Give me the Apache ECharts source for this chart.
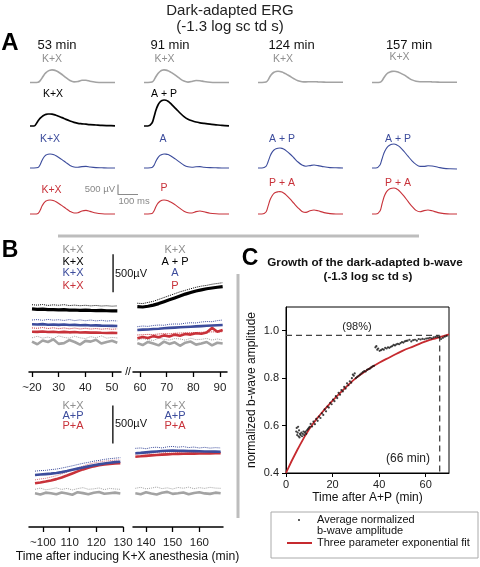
<!DOCTYPE html>
<html><head><meta charset="utf-8">
<script src="https://cdn.jsdelivr.net/npm/echarts@6/dist/echarts.min.js"></script>
<style>html,body{margin:0;padding:0;background:#fff}#c{width:480px;height:567px}</style>
</head><body><div id="c"></div><script>
// ---------------- Panel A data (ERG waveforms, µV vs ms) ----------------
const ERG_T = [0,20,40,50,60,70,80,90,100,110,120,130,140,160,180,200,220,240,260,280,300,330,360,390,425];
const ergGray53  = [0,0,10,80,220,380,490,570,610,630,620,590,540,400,240,100,30,50,110,110,60,15,0,0,0];
const ergGray91  = [0,0,20,120,300,450,550,610,630,620,590,540,480,340,190,70,20,50,100,90,50,10,0,0,0];
const ergGray124 = [0,0,20,120,300,430,510,550,560,550,520,480,430,310,190,90,40,30,40,40,30,20,10,10,10];
const ergGray157 = [0,0,10,90,250,390,480,530,555,560,550,520,480,380,250,130,60,40,40,40,30,20,10,10,10];
const ergBlack53 = [0,0,250,380,470,540,580,600,600,590,570,540,500,420,330,250,180,130,110,90,70,50,30,20,10];
const ergBlack91 = [0,0,150,450,800,1050,1200,1280,1300,1290,1240,1160,1060,860,650,470,340,260,200,160,130,90,60,30,10];
const ergBlue53  = [0,0,20,150,380,550,650,690,700,690,660,610,550,420,270,130,50,40,70,80,50,20,10,0,0];
const ergBlue91  = [0,0,20,130,350,520,630,680,700,695,670,620,560,430,280,140,60,40,60,70,40,20,10,0,0];
const ergBlue124 = [0,0,80,300,580,780,900,960,990,1000,980,940,870,700,500,300,150,90,120,150,120,60,20,10,0];
const ergBlue157 = [0,0,150,450,750,950,1080,1150,1190,1200,1180,1120,1040,830,590,360,180,80,80,110,100,40,-20,-40,-50];
const ergRed53   = [0,0,30,170,400,560,650,690,700,690,660,610,550,420,270,130,50,60,150,180,130,50,10,0,0];
const ergRed91   = [0,0,20,150,370,540,640,690,700,690,660,610,560,430,280,140,60,50,120,150,110,40,10,0,0];
const ergRed124  = [0,0,100,380,700,900,1030,1090,1110,1120,1100,1040,960,760,530,310,130,80,160,200,160,70,20,0,0];
const ergRed157  = [0,0,150,500,850,1070,1190,1260,1290,1300,1280,1210,1120,890,630,380,180,110,170,200,160,70,20,0,0];
const ergColumnTitles = ['53 min','91 min','124 min','157 min'];
const ergLabels = [['K+X','K+X','K+X','K+X'],['K+X','A + P',null,null],['K+X','A','A + P','A + P'],['K+X','P','P + A','P + A']];
const scaleA_uV = 500, scaleA_ms = 100;

// ---------------- Panel B data (b-wave amplitude µV vs time, min) ----------------
const bT1 = [20,22,24,26,28,30,32,34,36,38,40,42,44,46,48,50,52];
const bT2 = [59,61,63,65,67,69,71,73,75,77,79,81,83,85,87,89,91];
const bT3 = [97,99,101,103,105,107,109,111,113,115,117,119,121,123,125,127,129];
const bT4 = [136,138,140,142,144,146,148,150,152,154,156,158,160,162,164,166,168];
// top-left
const b1Black  = [830,825,828,820,822,818,820,815,816,812,814,810,808,810,806,804,803];
const b1BlackD = [885,880,888,876,884,878,886,874,880,872,878,870,876,868,872,866,870];
const b1Blue   = [628,625,630,622,626,620,624,618,620,615,618,612,614,610,608,607,605];
const b1BlueD  = [684,690,680,692,682,688,678,690,676,686,674,684,672,680,670,676,671];
const b1Red    = [530,528,532,526,530,524,528,522,526,520,522,518,520,516,514,515,513];
const b1RedD   = [580,575,585,572,582,570,580,568,578,566,575,565,572,563,570,562,568];
const b1Gray   = [400,365,415,395,430,370,380,420,395,360,410,400,425,375,395,410,385];
const b1GrayD  = [450,470,445,460,440,475,455,445,470,450,440,465,450,475,445,455,448];
// top-right
const b2Black  = [860,855,865,880,900,925,950,975,1000,1025,1045,1065,1080,1095,1105,1115,1123];
const b2BlackD = [905,900,915,930,955,980,1005,1030,1055,1075,1095,1115,1130,1140,1155,1165,1175];
const b2Blue   = [553,558,560,566,570,575,580,584,588,592,596,600,604,608,612,616,619];
const b2BlueD  = [596,605,600,612,618,615,628,632,630,642,648,645,658,664,662,676,684];
const b2Red    = [443,460,448,472,456,482,466,492,478,500,492,510,504,520,580,530,553];
const b2RedD   = [487,490,495,492,500,505,502,510,512,515,518,520,522,525,528,528,530];
const b2Gray   = [380,355,395,375,350,400,370,390,345,385,400,360,375,395,350,385,375];
const b2GrayD  = [420,440,425,415,445,430,420,440,435,418,445,425,430,442,420,435,421];
// bottom-left
const b3Blue   = [684,690,696,702,710,722,736,752,768,784,798,812,824,836,846,854,859];
const b3BlueD  = [735,742,745,755,762,775,790,805,822,838,850,866,876,890,898,906,912];
const b3Red    = [575,585,598,612,630,652,678,705,732,758,780,798,812,822,830,835,838];
const b3RedD   = [620,632,640,658,675,698,722,750,778,802,826,842,856,866,874,880,884];
const b3Gray   = [443,428,452,445,432,455,440,425,458,446,432,450,460,438,445,452,440];
const b3GrayD  = [496,512,490,500,515,494,508,488,505,518,496,502,514,492,508,500,496];
// bottom-right
const b4Blue   = [970,975,982,988,994,1000,1004,1006,1004,1002,1000,998,996,994,993,992,991];
const b4BlueD  = [1035,1040,1030,1045,1050,1040,1055,1060,1050,1058,1045,1052,1040,1048,1038,1044,1040];
const b4Red    = [925,930,936,942,948,952,956,960,962,964,965,966,967,968,969,970,970];
const b4RedD   = [960,968,962,975,980,972,985,990,982,992,988,985,990,986,992,985,987];
const b4Gray   = [443,432,456,440,428,450,462,436,445,455,430,448,458,442,436,452,443];
const b4GrayD  = [509,522,502,512,526,505,515,500,520,510,524,504,518,508,522,512,509];
const bTicks1 = [20,30,40,50], bTicks2 = [60,70,80,90], bTicks3 = [100,110,120,130], bTicks4 = [140,150,160];
const bLegendTL = ['K+X','K+X','K+X','K+X'], bLegendTR = ['K+X','A + P','A','P'];
const bLegendBL = ['K+X','A+P','P+A'], bLegendBR = ['K+X','A+P','P+A'];
const scaleB_uV = 500;

// ---------------- Panel C data ----------------
const cDotT = [4.4,4.6,4.8,5.0,5.2,5.4,5.6,5.8,6.0,6.3,6.6,6.9,7.2,7.5,7.8,8.1,8.4,8.7,9.0,9.4,9.8,10.2,
  10.6,11.2,11.8,12.4,13.0,13.6,14.2,14.8,15.4,16.0,16.6,17.2,17.8,18.4,19.0,19.6,20.2,20.8,21.4,22.0,22.6,23.2,23.8,24.4,25.0,25.6,26.2,26.8,27.4,28.0,
  28.3,28.7,29.1,29.5,30.0,30.6,31.2,31.8,32.4,33.0,33.6,34.2,34.8,35.4,36.0,36.6,37.2,37.8,
  38.4,38.8,39.2,39.6,40.2,40.8,41.4,42.0,42.6,43.2,43.8,44.4,45.0,45.6,46.2,46.8,47.4,48.0,48.6,49.2,49.8,50.4,51.0,51.6,
  52.2,53,53.8,54.6,55.4,56.2,57,57.8,58.6,59.4,60.2,61,61.8,62.6,63.4,64.2,65,65.8,66.6,67.4,68.2,69];
const cDotV = [0.575,0.59,0.56,0.57,0.595,0.555,0.58,0.55,0.565,0.56,0.57,0.555,0.565,0.575,0.56,0.57,0.575,0.565,0.58,0.585,0.59,0.595,
  0.607,0.596,0.617,0.606,0.628,0.62,0.638,0.632,0.652,0.645,0.668,0.66,0.68,0.676,0.696,0.69,0.71,0.703,0.724,0.716,0.738,0.73,0.75,0.744,0.763,0.756,0.778,0.77,0.787,0.781,
  0.80,0.815,0.81,0.82,0.80,0.805,0.81,0.815,0.82,0.825,0.83,0.828,0.835,0.838,0.84,0.845,0.85,0.852,
  0.93,0.935,0.92,0.925,0.915,0.918,0.922,0.92,0.928,0.925,0.93,0.928,0.932,0.935,0.94,0.938,0.942,0.945,0.943,0.948,0.952,0.95,0.955,0.957,
  0.958,0.962,0.955,0.96,0.962,0.958,0.965,0.963,0.966,0.964,0.967,0.968,0.97,0.968,0.972,0.974,0.975,0.972,0.965,0.97,0.975,0.978];
const cFitT = [0,5,10,15,20,25,30,35,40,45,50,55,60,65,70];
const cFitV = [0.40,0.50,0.585,0.65,0.705,0.755,0.80,0.835,0.865,0.89,0.915,0.935,0.955,0.97,0.985];
const cLevel = 0.98, cTime = 66;
const cXTicks = [0,20,40,60], cYTicks = [0.4,0.6,0.8,1.0];

// ---------------- build ----------------
const FONT = "'Liberation Sans', Arial, Helvetica, sans-serif";
const C = {gray:'#a3a3a3', grayTxt:'#8f8f8f', black:'#000', blue:'#3c4c9c', red:'#c8323a', redD:'#d9707a'};
const grids=[], xAxes=[], yAxes=[], series=[], graphics=[];
function addGrid(g,x,y){grids.push(g);const i=grids.length-1;x.gridIndex=i;y.gridIndex=i;xAxes.push(x);yAxes.push(y);return i;}
function zip(a,b){return a.map((v,i)=>[v,b[i]]);}
function txt(s,x,y,o){o=o||{};graphics.push({type:'text',x:x,y:y,silent:true,z:50,style:{text:s,fill:o.color||'#222',fontSize:o.size||11,fontWeight:o.weight||'normal',fontFamily:FONT,align:o.align||'center',verticalAlign:'middle'}});}

// Panel A
const aCols=[30,144,258,372], aBase=[82.5,126,168,214];
const aColors=[C.gray,C.black,C.blue,C.red], aWidths=[1.6,1.7,1.1,1.1];
const ergRows=[[ergGray53,ergGray91,ergGray124,ergGray157],[ergBlack53,ergBlack91,null,null],
  [ergBlue53,ergBlue91,ergBlue124,ergBlue157],[ergRed53,ergRed91,ergRed124,ergRed157]];
ergRows.forEach((row,r)=>row.forEach((arr,c)=>{
  if(!arr) return;
  const gi=addGrid({left:aCols[c],top:aBase[r]-30,width:85,height:36},
    {type:'value',min:0,max:425,show:false},{type:'value',min:-300,max:1500,show:false});
  series.push({type:'line',xAxisIndex:gi,yAxisIndex:gi,data:zip(ERG_T,arr),showSymbol:false,smooth:0.3,
    lineStyle:{color:aColors[r],width:aWidths[r]},silent:true});
}));
// scale bar for A (same µV/ms scale as the traces: 0.2 px/ms, 0.02 px/µV)
const gsb=addGrid({left:118,top:184.5,width:scaleA_ms*0.2,height:scaleA_uV*0.02},
  {type:'value',min:0,max:scaleA_ms,show:false},{type:'value',min:0,max:scaleA_uV,show:false});
series.push({type:'line',xAxisIndex:gsb,yAxisIndex:gsb,clip:false,showSymbol:false,silent:true,
  data:[[0,scaleA_uV],[0,0],[scaleA_ms,0]],lineStyle:{color:'#8a8a8a',width:1.2}});

// Panel B
const bPanels=[
 {left:29,width:92,top:250.4,xMin:18.875,xMax:53.375,ticks:bTicks1,T:bT1,tilde:20,
  lines:[[b1GrayD,C.gray,1],[b1Gray,C.gray,0],[b1RedD,C.red,1],[b1Red,C.red,0],[b1BlueD,C.blue,1],[b1Blue,C.blue,0],[b1BlackD,C.black,1],[b1Black,C.black,0]]},
 {left:133,width:94,top:250.4,xMin:57.375,xMax:92.625,ticks:bTicks2,T:bT2,
  lines:[[b2GrayD,C.gray,1],[b2Gray,C.gray,0],[b2RedD,C.red,1],[b2Red,C.red,0],[b2BlueD,C.blue,1],[b2Blue,C.blue,0],[b2BlackD,C.black,1],[b2Black,C.black,0]]},
 {left:29,width:94,top:405.4,xMin:94.75,xMax:130,ticks:bTicks3,T:bT3,tilde:100,
  lines:[[b3GrayD,C.gray,1],[b3Gray,C.gray,0],[b3RedD,C.redD,1],[b3Red,C.red,0],[b3BlueD,C.blue,1],[b3Blue,C.blue,0]]},
 {left:133,width:90,top:405.4,xMin:135.125,xMax:168.875,ticks:bTicks4,T:bT4,
  lines:[[b4GrayD,C.gray,1],[b4Gray,C.gray,0],[b4RedD,C.redD,1],[b4Red,C.red,0],[b4BlueD,C.blue,1],[b4Blue,C.blue,0]]}
];
const bGridIdx=[];
bPanels.forEach(p=>{
  const gi=addGrid({left:p.left,top:p.top,width:p.width,height:121.6},
   {type:'value',min:p.xMin,max:p.xMax,splitLine:{show:false},
    axisLine:{show:true,lineStyle:{color:'#000',width:1.5}},
    axisTick:{show:true,customValues:p.ticks,length:5,lineStyle:{color:'#000',width:1.3}},
    axisLabel:{customValues:p.ticks,margin:10,fontSize:11.5,color:'#222',fontFamily:FONT,
      formatter:(v)=>(v===p.tilde?'~':'')+v}},
   {type:'value',min:0,max:1600,show:false});
  bGridIdx.push(gi);
  p.lines.forEach(l=>{
    series.push({type:'line',xAxisIndex:gi,yAxisIndex:gi,data:zip(p.T,l[0]),showSymbol:false,silent:true,
      lineStyle:{color:l[1],width:l[2]?1:(l[1]===C.black?3.2:2.6),type:l[2]?'dotted':'solid'}});
  });
});
// B scale bars
series.push({type:'line',xAxisIndex:bGridIdx[0],yAxisIndex:bGridIdx[0],clip:false,showSymbol:false,silent:true,
  data:[[50.4,1050],[50.4,1050+scaleB_uV]],lineStyle:{color:'#000',width:1.3}});
series.push({type:'line',xAxisIndex:bGridIdx[2],yAxisIndex:bGridIdx[2],clip:false,showSymbol:false,silent:true,
  data:[[126.2,1100],[126.2,1100+scaleB_uV]],lineStyle:{color:'#000',width:1.3}});

// Panel C
const gc=addGrid({left:286,top:307,width:163,height:166,show:true,borderColor:'#000',borderWidth:1},
 {type:'value',min:0,max:70,splitLine:{show:false},name:'Time after A+P (min)',nameLocation:'middle',nameGap:19,
  nameTextStyle:{fontSize:12,color:'#111',fontFamily:FONT},
  axisLine:{lineStyle:{color:'#000',width:1}},axisTick:{customValues:cXTicks,length:4,lineStyle:{color:'#000'}},
  axisLabel:{customValues:cXTicks,fontSize:11,color:'#222',margin:6,fontFamily:FONT}},
 {type:'value',min:0.4,max:1.1,splitLine:{show:false},name:'normalized b-wave amplitude',nameLocation:'middle',nameGap:28,
  nameTextStyle:{fontSize:12,color:'#111',fontFamily:FONT},
  axisLine:{show:true,lineStyle:{color:'#000',width:1}},axisTick:{show:true,customValues:cYTicks,length:4,lineStyle:{color:'#000'}},
  axisLabel:{customValues:cYTicks,fontSize:11,color:'#222',margin:7,fontFamily:FONT,formatter:v=>v.toFixed(1)}});
series.push({type:'line',xAxisIndex:gc,yAxisIndex:gc,data:[[0,cLevel],[cTime,cLevel]],showSymbol:false,silent:true,
  lineStyle:{color:'#444',width:1.3,type:[6,4]}});
series.push({type:'line',xAxisIndex:gc,yAxisIndex:gc,data:[[cTime,cLevel],[cTime,0.4]],showSymbol:false,silent:true,
  lineStyle:{color:'#444',width:1.3,type:[6,4]}});
series.push({type:'line',xAxisIndex:gc,yAxisIndex:gc,data:zip(cFitT,cFitV),showSymbol:false,smooth:true,silent:true,z:2,
  lineStyle:{color:'#c62a2f',width:1.8}});
series.push({type:'scatter',xAxisIndex:gc,yAxisIndex:gc,data:zip(cDotT,cDotV),symbolSize:2.2,z:3,itemStyle:{color:'#111'},silent:true});

// ---------------- texts / annotations ----------------
txt('Dark-adapted ERG',230,11,{size:15});
txt('(-1.3 log sc td s)',230,27,{size:15});
txt('A',10,43,{size:24,weight:'bold',color:'#000'});
const aTitleX=[57,170,291.5,409];
ergColumnTitles.forEach((s,i)=>txt(s,aTitleX[i],45,{size:13,color:'#111'}));
const aLabelX=[[52,164.5,283,399.5],[53,164,0,0],[50,163,282,398],[51.5,164,282,398]];
const aLabelY=[[59,59,59,57.5],[94,94,94,94],[139,139,139,139],[190,188,183,183]];
const aLabelC=[C.grayTxt,C.black,C.blue,C.red];
ergLabels.forEach((row,r)=>row.forEach((s,c)=>{ if(s) txt(s,aLabelX[r][c],aLabelY[r][c],{size:10.5,color:aLabelC[r]}); }));
txt(scaleA_uV+' µV',115,189,{size:9.5,color:'#888',align:'right'});
txt(scaleA_ms+' ms',118.5,201,{size:9.5,color:'#888',align:'left'});
graphics.push({type:'rect',shape:{x:58,y:234.5,width:361,height:3},style:{fill:'#bdbdbd'},silent:true});
graphics.push({type:'rect',shape:{x:236.5,y:274,width:3,height:244},style:{fill:'#bdbdbd'},silent:true});
txt('B',10,251,{size:23,weight:'bold',color:'#000'});
txt('C',250,259,{size:23,weight:'bold',color:'#000'});
const bColTL=[C.grayTxt,C.black,C.blue,C.red], bYTop=[249.5,261.7,273.3,285.7];
bLegendTL.forEach((s,i)=>txt(s,73,bYTop[i],{size:11,color:bColTL[i]}));
bLegendTR.forEach((s,i)=>txt(s,175,bYTop[i],{size:11,color:bColTL[i]}));
const bColB=[C.grayTxt,C.blue,C.red], bYBot=[405.5,415.5,425.5];
bLegendBL.forEach((s,i)=>txt(s,73,bYBot[i],{size:11,color:bColB[i]}));
bLegendBR.forEach((s,i)=>txt(s,175,bYBot[i],{size:11,color:bColB[i]}));
txt(scaleB_uV+'µV',115,274,{size:11,color:'#111',align:'left'});
txt(scaleB_uV+'µV',115,424,{size:11,color:'#111',align:'left'});
txt('//',128,372,{size:10,color:'#000'});
txt('Time after inducing K+X anesthesia (min)',127.5,557,{size:12.2,color:'#111'});
txt('Growth of the dark-adapted b-wave',365,263,{size:11.7,weight:'bold',color:'#111'});
txt('(-1.3 log sc td s)',368,277,{size:11.7,weight:'bold',color:'#111'});
txt('('+Math.round(cLevel*100)+'%)',357,327,{size:11,color:'#222'});
txt('('+cTime+' min)',408,459,{size:12,color:'#222'});
// legend box for C
graphics.push({type:'rect',shape:{x:271,y:512,width:207,height:46},style:{fill:'none',stroke:'#aaa',lineWidth:1},silent:true});
graphics.push({type:'circle',shape:{cx:299,cy:520,r:0.9},style:{fill:'#111'},silent:true});
graphics.push({type:'line',shape:{x1:287,y1:543,x2:312,y2:543},style:{stroke:'#c62a2f',lineWidth:2},silent:true});
txt('Average normalized',317,520,{size:11,align:'left',color:'#111'});
txt('b-wave amplitude',317,531,{size:11,align:'left',color:'#111'});
txt('Three parameter exponential fit',317,543,{size:11,align:'left',color:'#111'});

const chart=echarts.init(document.getElementById('c'),null,{renderer:'canvas'});
chart.setOption({animation:false,backgroundColor:'#fff',textStyle:{fontFamily:FONT},
  grid:grids,xAxis:xAxes,yAxis:yAxes,series:series,graphic:graphics});
</script></body></html>
